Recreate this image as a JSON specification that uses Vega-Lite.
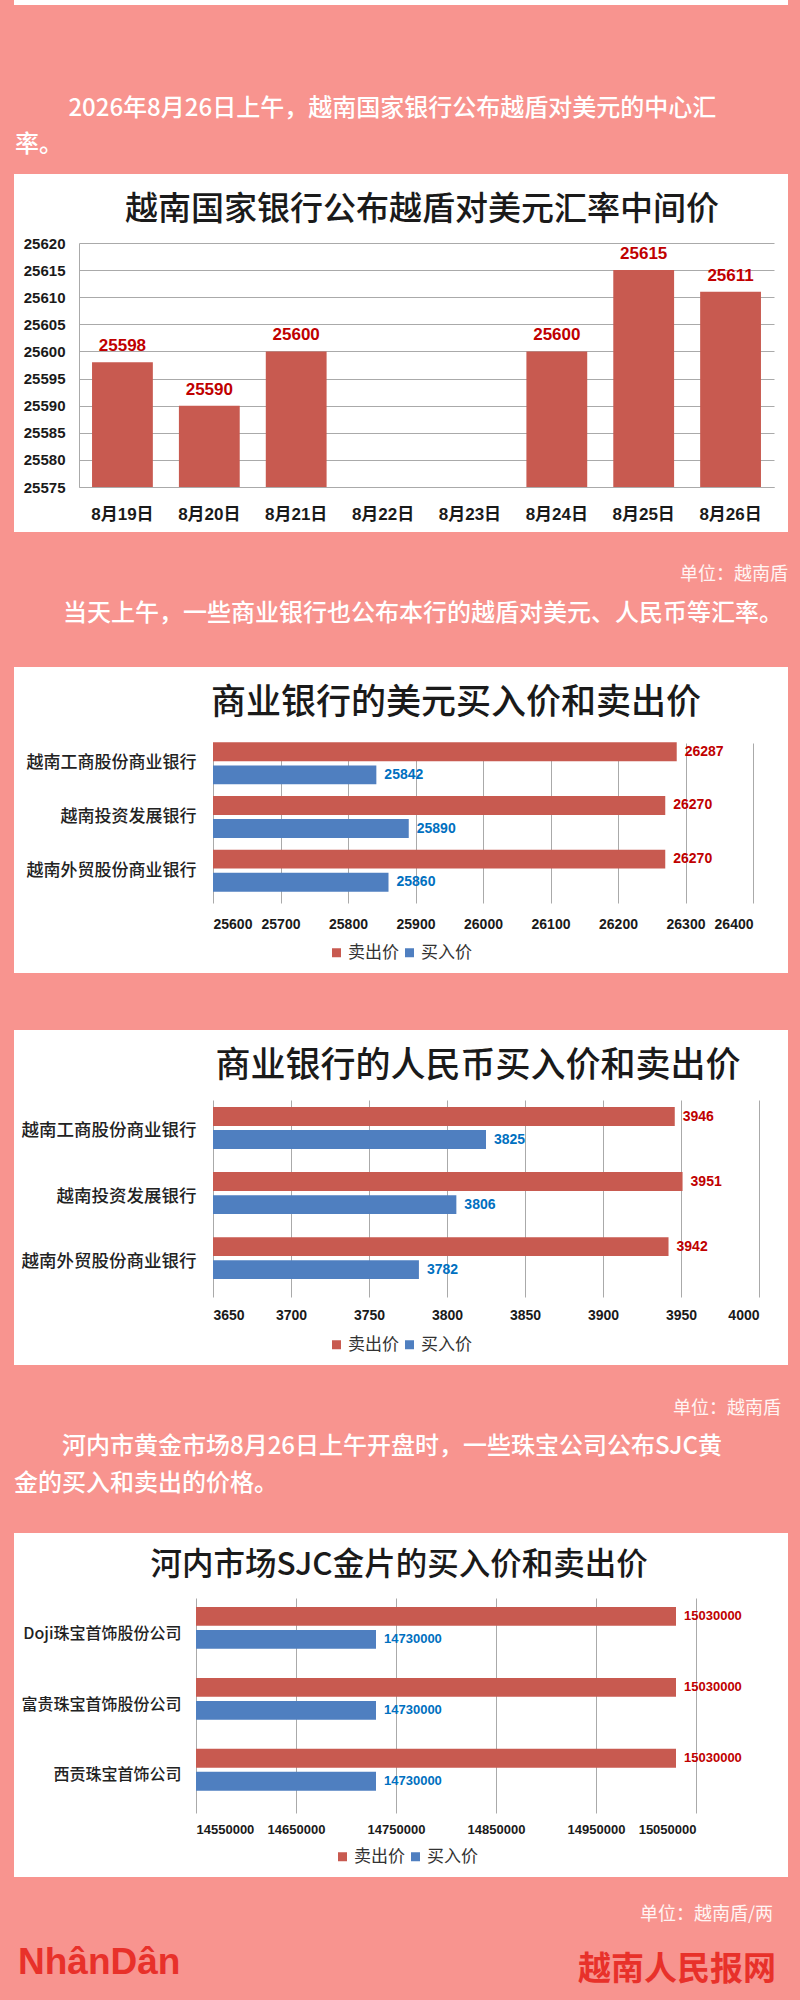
{
  "$schema": "https://vega.github.io/schema/vega-lite/v6.json",
  "background": "#F8948F",
  "padding": {"left": 14, "right": 12, "top": 0, "bottom": 0},
  "bounds": "flush",
  "spacing": 0,
  "config": {
    "view": {"stroke": null},
    "font": "Noto Sans CJK SC",
    "axis": {"labelColor": "#1a1a1a", "gridColor": "#AAAAAA", "domainColor": "#AAAAAA", "title": null}
  },
  "vconcat": [
    {"width": 774, "height": 5, "view": {"fill": "white"}, "data": {"values": []}, "mark": "text", "encoding": {}},
    {
      "width": 774, "height": 169, "data": {"values": []}, "mark": "text", "encoding": {},
      "title": {"text": ["\u200b\u3000\u3000 2026年8月26日上午，越南国家银行公布越盾对美元的中心汇", "率。"], "orient": "bottom", "anchor": "start", "frame": "group", "offset": -77, "dx": 1, "fontSize": 24, "lineHeight": 36, "font": "Noto Sans CJK SC", "fontWeight": 500, "color": "#FFFFFF"}
    },
    {
      "width": 774, "height": 358,
      "view": {"fill": "white"},
      "title": {"text": "越南国家银行公布越盾对美元汇率中间价", "orient": "bottom", "anchor": "middle", "frame": "group", "offset": -338, "dx": 21, "fontSize": 33, "font": "Noto Sans CJK SC", "fontWeight": 500, "color": "#1a1a1a"},
      "data": {"values": [
        {"date": "8月19日", "rate": 25598},
        {"date": "8月20日", "rate": 25590},
        {"date": "8月21日", "rate": 25600},
        {"date": "8月24日", "rate": 25600},
        {"date": "8月25日", "rate": 25615},
        {"date": "8月26日", "rate": 25611}
      ]},
      "encoding": {
        "x": {"field": "date", "type": "ordinal", "sort": null,
          "scale": {"domain": ["8月19日", "8月20日", "8月21日", "8月22日", "8月23日", "8月24日", "8月25日", "8月26日"], "range": [65, 760], "paddingInner": 0.3, "paddingOuter": 0.15},
          "axis": {"orient": "bottom", "offset": -45, "domain": true, "ticks": false, "grid": false, "labelAngle": 0, "labelPadding": 27, "labelBaseline": "middle", "labelFont": "Liberation Sans, Noto Sans CJK SC", "labelFontWeight": "bold", "labelFontSize": 17}},
        "y": {"field": "rate", "type": "quantitative",
          "scale": {"domain": [25575, 25620], "range": [313, 69], "nice": false, "zero": false},
          "axis": {"orient": "left", "offset": -65, "values": [25575, 25580, 25585, 25590, 25595, 25600, 25605, 25610, 25615, 25620], "format": "d", "domain": true, "ticks": false, "grid": true, "labelPadding": 14, "labelFont": "Liberation Sans", "labelFontWeight": "bold", "labelFontSize": 15}}
      },
      "layer": [
        {"mark": {"type": "bar", "color": "#C85A50"}, "encoding": {"y2": {"datum": 25575}}},
        {"mark": {"type": "text", "dy": -16, "color": "#C00000", "font": "Liberation Sans", "fontWeight": "bold", "fontSize": 17},
          "encoding": {"text": {"field": "rate", "type": "quantitative", "format": "d"}}}
      ]
    },
    {
      "width": 774, "height": 60, "data": {"values": []}, "mark": "text", "encoding": {},
      "title": {"text": "单位：越南盾", "orient": "bottom", "anchor": "end", "frame": "group", "offset": -26, "dx": 0, "fontSize": 18, "font": "Noto Sans CJK SC", "fontWeight": "normal", "color": "#FFF4F3"}
    },
    {
      "width": 774, "height": 75, "data": {"values": []}, "mark": "text", "encoding": {},
      "title": {"text": "\u200b\u3000\u3000当天上午，一些商业银行也公布本行的越盾对美元、人民币等汇率。", "orient": "bottom", "anchor": "start", "frame": "group", "offset": -65, "dx": 1, "fontSize": 24, "font": "Noto Sans CJK SC", "fontWeight": 500, "color": "#FFFFFF"}
    },
    {
      "width": 774, "height": 306,
      "view": {"fill": "white"},
      "title": {"text": "商业银行的美元买入价和卖出价", "orient": "bottom", "anchor": "middle", "frame": "group", "offset": -287, "dx": 55, "fontSize": 35, "font": "Noto Sans CJK SC", "fontWeight": 500, "color": "#1a1a1a"},
      "data": {"values": [
        {"bank": "越南工商股份商业银行", "type": "卖出价", "price": 26287},
        {"bank": "越南工商股份商业银行", "type": "买入价", "price": 25842},
        {"bank": "越南投资发展银行", "type": "卖出价", "price": 26270},
        {"bank": "越南投资发展银行", "type": "买入价", "price": 25890},
        {"bank": "越南外贸股份商业银行", "type": "卖出价", "price": 26270},
        {"bank": "越南外贸股份商业银行", "type": "买入价", "price": 25860}
      ]},
      "encoding": {
        "y": {"field": "bank", "type": "nominal", "sort": null,
          "scale": {"range": [70, 230], "paddingInner": 0.22, "paddingOuter": 0.1},
          "axis": {"orient": "left", "offset": -199, "domain": false, "ticks": false, "grid": false, "labelPadding": 17, "labelFont": "Noto Sans CJK SC", "labelFontSize": 17, "labelFontWeight": 500, "labelColor": "#222222", "labelLimit": 300}},
        "yOffset": {"field": "type", "type": "nominal", "sort": ["卖出价", "买入价"], "scale": {"paddingInner": 0.18}},
        "x": {"field": "price", "type": "quantitative",
          "scale": {"domain": [25600, 26400], "range": [199, 739], "nice": false, "zero": false},
          "axis": {"orient": "bottom", "offset": -76, "values": [25600, 25700, 25800, 25900, 26000, 26100, 26200, 26300, 26400], "format": "d", "domain": false, "ticks": false, "grid": true, "labelPadding": 27, "labelBaseline": "middle", "labelFont": "Liberation Sans", "labelFontWeight": "bold", "labelFontSize": 14}}
      },
      "layer": [
        {"mark": {"type": "bar"},
          "encoding": {"x2": {"datum": 25600},
            "color": {"field": "type", "type": "nominal", "scale": {"domain": ["卖出价", "买入价"], "range": ["#C85A50", "#4F7FC0"]},
              "legend": {"orient": "none", "legendX": 314, "legendY": 277, "direction": "horizontal", "title": null, "symbolType": "square", "symbolSize": 81, "symbolStrokeWidth": 0, "labelFont": "Noto Sans CJK SC", "labelFontSize": 17, "labelColor": "#333333", "columnPadding": 2, "labelOffset": 3}}}},
        {"mark": {"type": "text", "align": "left", "baseline": "middle", "dx": 8, "font": "Liberation Sans", "fontWeight": "bold", "fontSize": 14},
          "encoding": {"text": {"field": "price", "type": "quantitative", "format": "d"},
            "color": {"field": "type", "type": "nominal", "scale": {"domain": ["卖出价", "买入价"], "range": ["#C00000", "#0070C0"]}, "legend": null}}}
      ],
      "resolve": {"scale": {"color": "independent"}}
    },
    {"width": 774, "height": 57, "data": {"values": []}, "mark": "text", "encoding": {}},
    {
      "width": 774, "height": 335,
      "view": {"fill": "white"},
      "title": {"text": "商业银行的人民币买入价和卖出价", "orient": "bottom", "anchor": "middle", "frame": "group", "offset": -316, "dx": 77, "fontSize": 35, "font": "Noto Sans CJK SC", "fontWeight": 500, "color": "#1a1a1a"},
      "data": {"values": [
        {"bank": "越南工商股份商业银行", "type": "卖出价", "price": 3946},
        {"bank": "越南工商股份商业银行", "type": "买入价", "price": 3825},
        {"bank": "越南投资发展银行", "type": "卖出价", "price": 3951},
        {"bank": "越南投资发展银行", "type": "买入价", "price": 3806},
        {"bank": "越南外贸股份商业银行", "type": "卖出价", "price": 3942},
        {"bank": "越南外贸股份商业银行", "type": "买入价", "price": 3782}
      ]},
      "encoding": {
        "y": {"field": "bank", "type": "nominal", "sort": null,
          "scale": {"range": [68, 265], "paddingInner": 0.25, "paddingOuter": 0.14},
          "axis": {"orient": "left", "offset": -199, "domain": false, "ticks": false, "grid": false, "labelPadding": 17, "labelFont": "Noto Sans CJK SC", "labelFontSize": 17.5, "labelFontWeight": 500, "labelColor": "#222222", "labelLimit": 300}},
        "yOffset": {"field": "type", "type": "nominal", "sort": ["卖出价", "买入价"], "scale": {"paddingInner": 0.2}},
        "x": {"field": "price", "type": "quantitative",
          "scale": {"domain": [3650, 4000], "range": [199, 745], "nice": false, "zero": false},
          "axis": {"orient": "bottom", "offset": -70, "values": [3650, 3700, 3750, 3800, 3850, 3900, 3950, 4000], "format": "d", "domain": false, "ticks": false, "grid": true, "labelPadding": 20, "labelBaseline": "middle", "labelFont": "Liberation Sans", "labelFontWeight": "bold", "labelFontSize": 14}}
      },
      "layer": [
        {"mark": {"type": "bar"},
          "encoding": {"x2": {"datum": 3650},
            "color": {"field": "type", "type": "nominal", "scale": {"domain": ["卖出价", "买入价"], "range": ["#C85A50", "#4F7FC0"]},
              "legend": {"orient": "none", "legendX": 314, "legendY": 306, "direction": "horizontal", "title": null, "symbolType": "square", "symbolSize": 81, "symbolStrokeWidth": 0, "labelFont": "Noto Sans CJK SC", "labelFontSize": 17, "labelColor": "#333333", "columnPadding": 2, "labelOffset": 3}}}},
        {"mark": {"type": "text", "align": "left", "baseline": "middle", "dx": 8, "font": "Liberation Sans", "fontWeight": "bold", "fontSize": 14},
          "encoding": {"text": {"field": "price", "type": "quantitative", "format": "d"},
            "color": {"field": "type", "type": "nominal", "scale": {"domain": ["卖出价", "买入价"], "range": ["#C00000", "#0070C0"]}, "legend": null}}}
      ],
      "resolve": {"scale": {"color": "independent"}}
    },
    {
      "width": 774, "height": 60, "data": {"values": []}, "mark": "text", "encoding": {},
      "title": {"text": "单位：越南盾", "orient": "bottom", "anchor": "end", "frame": "group", "offset": -25, "dx": -7, "fontSize": 18, "font": "Noto Sans CJK SC", "fontWeight": "normal", "color": "#FFF4F3"}
    },
    {
      "width": 774, "height": 108, "data": {"values": []}, "mark": "text", "encoding": {},
      "title": {"text": ["\u200b\u3000\u3000河内市黄金市场8月26日上午开盘时，一些珠宝公司公布SJC黄", "金的买入和卖出的价格。"], "orient": "bottom", "anchor": "start", "frame": "group", "offset": -98, "dx": 0, "fontSize": 24, "lineHeight": 37, "font": "Noto Sans CJK SC", "fontWeight": 500, "color": "#FFFFFF"}
    },
    {
      "width": 774, "height": 344,
      "view": {"fill": "white"},
      "title": {"text": "河内市场SJC金片的买入价和卖出价", "orient": "bottom", "anchor": "middle", "frame": "group", "offset": -327, "dx": -2, "fontSize": 31.5, "font": "Noto Sans CJK SC", "fontWeight": 500, "color": "#1a1a1a"},
      "data": {"values": [
        {"company": "Doji珠宝首饰股份公司", "type": "卖出价", "price": 15030000},
        {"company": "Doji珠宝首饰股份公司", "type": "买入价", "price": 14730000},
        {"company": "富贵珠宝首饰股份公司", "type": "卖出价", "price": 15030000},
        {"company": "富贵珠宝首饰股份公司", "type": "买入价", "price": 14730000},
        {"company": "西贡珠宝首饰公司", "type": "卖出价", "price": 15030000},
        {"company": "西贡珠宝首饰公司", "type": "买入价", "price": 14730000}
      ]},
      "encoding": {
        "y": {"field": "company", "type": "nominal", "sort": null,
          "scale": {"range": [64, 279], "paddingInner": 0.25, "paddingOuter": 0.14},
          "axis": {"orient": "left", "offset": -182, "domain": false, "ticks": false, "grid": false, "labelPadding": 15, "labelFont": "Noto Sans CJK SC", "labelFontSize": 16, "labelFontWeight": 500, "labelColor": "#222222", "labelLimit": 300}},
        "yOffset": {"field": "type", "type": "nominal", "sort": ["卖出价", "买入价"], "scale": {"paddingInner": 0.2}},
        "x": {"field": "price", "type": "quantitative",
          "scale": {"domain": [14550000, 15050000], "range": [182, 682], "nice": false, "zero": false},
          "axis": {"orient": "bottom", "offset": -65, "values": [14550000, 14650000, 14750000, 14850000, 14950000, 15050000], "format": "d", "domain": false, "ticks": false, "grid": true, "labelPadding": 17, "labelBaseline": "middle", "labelFont": "Liberation Sans", "labelFontWeight": "bold", "labelFontSize": 13}}
      },
      "layer": [
        {"mark": {"type": "bar"},
          "encoding": {"x2": {"datum": 14550000},
            "color": {"field": "type", "type": "nominal", "scale": {"domain": ["卖出价", "买入价"], "range": ["#C85A50", "#4F7FC0"]},
              "legend": {"orient": "none", "legendX": 320, "legendY": 315, "direction": "horizontal", "title": null, "symbolType": "square", "symbolSize": 81, "symbolStrokeWidth": 0, "labelFont": "Noto Sans CJK SC", "labelFontSize": 17, "labelColor": "#333333", "columnPadding": 2, "labelOffset": 3}}}},
        {"mark": {"type": "text", "align": "left", "baseline": "middle", "dx": 8, "font": "Liberation Sans", "fontWeight": "bold", "fontSize": 13},
          "encoding": {"text": {"field": "price", "type": "quantitative", "format": "d"},
            "color": {"field": "type", "type": "nominal", "scale": {"domain": ["卖出价", "买入价"], "range": ["#C00000", "#0070C0"]}, "legend": null}}}
      ],
      "resolve": {"scale": {"color": "independent"}}
    },
    {
      "width": 774, "height": 58, "data": {"values": []}, "mark": "text", "encoding": {},
      "title": {"text": "单位：越南盾/两", "orient": "bottom", "anchor": "end", "frame": "group", "offset": -29, "dx": -15, "fontSize": 18, "font": "Noto Sans CJK SC", "fontWeight": "normal", "color": "#FFF4F3"}
    },
    {
      "spacing": 0,
      "bounds": "flush",
      "hconcat": [
        {
          "width": 387, "height": 65, "data": {"values": []}, "mark": "text", "encoding": {},
          "title": {"text": "NhânDân", "orient": "bottom", "anchor": "start", "frame": "group", "offset": -55, "dx": 4, "fontSize": 37, "font": "Liberation Sans Narrow, Liberation Sans", "fontWeight": "bold", "color": "#E8312A"}
        },
        {
          "width": 387, "height": 65, "data": {"values": []}, "mark": "text", "encoding": {},
          "title": {"text": "越南人民报网", "orient": "bottom", "anchor": "end", "frame": "group", "offset": -46, "dx": -12, "fontSize": 33, "font": "Noto Sans CJK SC", "fontWeight": "bold", "color": "#E8312A"}
        }
      ]
    }
  ]
}
